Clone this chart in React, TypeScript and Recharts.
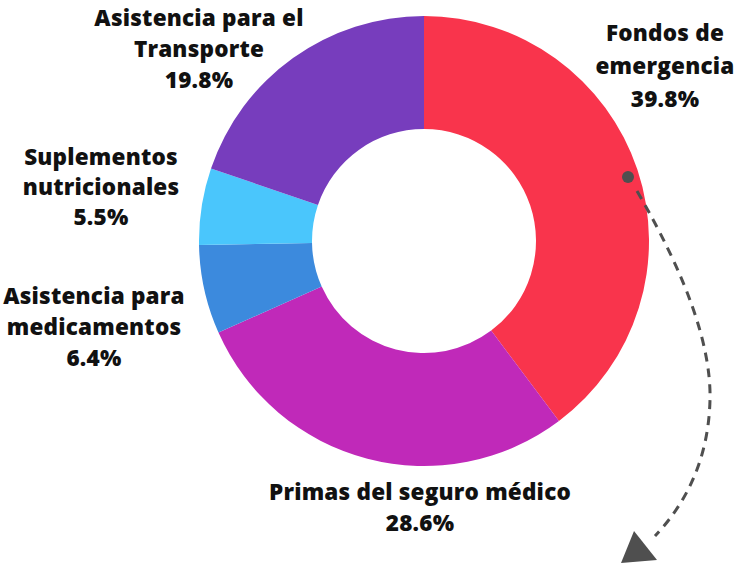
import { PieChart, Pie, Cell } from "recharts";

const categories = [
  "Fondos de emergencia",
  "Primas del seguro médico",
  "Asistencia para medicamentos",
  "Suplementos nutricionales",
  "Asistencia para el Transporte",
];
const shares = [39.8, 28.6, 6.4, 5.5, 19.8];
const labelLines = [
  ["Fondos de", "emergencia"],
  ["Primas del seguro médico"],
  ["Asistencia para", "medicamentos"],
  ["Suplementos", "nutricionales"],
  ["Asistencia para el", "Transporte"],
];

const COLORS = ["#F9344C", "#C029B9", "#3C8ADD", "#4AC6FC", "#773DBD"];

// label block centers, offset from the pie center (hand placed like the original)
const LABEL_OFFSETS = [
  { dx: 241, dy: -176, lh: 33 },
  { dx: -4, dy: 265, lh: 31 },
  { dx: -330, dy: 85, lh: 31 },
  { dx: -323, dy: -55, lh: 30 },
  { dx: -225, dy: -193, lh: 31 },
];

const data = categories.map((name, i) => ({ name, value: shares[i], lines: labelLines[i] }));

const FONT = "'Open Sans', 'Noto Sans', sans-serif";

function renderLabel(props: any) {
  const { cx, cy, index, payload } = props;
  const off = LABEL_OFFSETS[index];
  const lines: string[] = [...(payload.lines || labelLines[index]), `${shares[index]}%`];
  const x = cx + off.dx;
  const top = cy + off.dy - ((lines.length - 1) * off.lh) / 2;
  return (
    <text
      x={x}
      y={top}
      textAnchor="middle"
      dominantBaseline="central"
      fill="#111"
      fontFamily={FONT}
      fontWeight={800}
      fontSize={22.5}
      letterSpacing={0.2}
    >
      {lines.map((l, i) => (
        <tspan key={i} x={x} y={top + i * off.lh}>
          {l}
        </tspan>
      ))}
    </text>
  );
}

export default function App() {
  return (
    <div style={{ position: "relative", width: 736, height: 570, background: "#fff" }}>
      <style>{`body{margin:0}`}</style>
      <PieChart width={736} height={570} margin={{ top: 0, right: 0, bottom: 0, left: 0 }}>
        <Pie
          data={data}
          dataKey="value"
          nameKey="name"
          cx={424}
          cy={241}
          innerRadius={112}
          outerRadius={225}
          startAngle={90}
          endAngle={-270}
          stroke="none"
          label={renderLabel}
          labelLine={false}
          isAnimationActive={false}
        >
          {data.map((d, i) => (
            <Cell key={d.name} fill={COLORS[i]} />
          ))}
        </Pie>
      </PieChart>
      <svg
        width={736}
        height={570}
        style={{ position: "absolute", left: 0, top: 0, pointerEvents: "none" }}
      >
        <circle cx={628} cy={177} r={6} fill="#4F4F4F" />
        <path
          d="M637,191 Q712,320 710,400 Q708,480 655,536"
          fill="none"
          stroke="#4F4F4F"
          strokeWidth={3}
          strokeDasharray="9 7"
        />
        <polygon points="634,531 621,563 657,560" fill="#4F4F4F" />
      </svg>
    </div>
  );
}
